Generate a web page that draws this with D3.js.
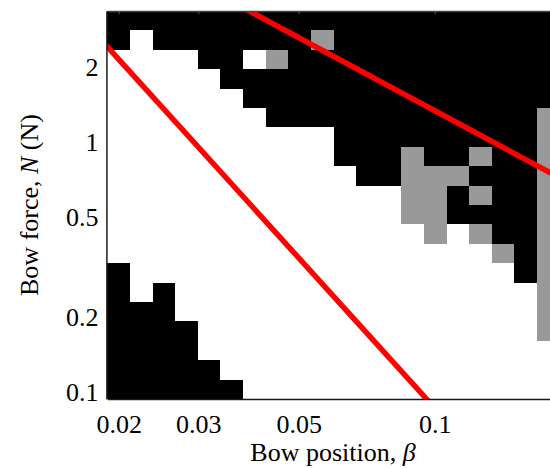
<!DOCTYPE html>
<html>
<head>
<meta charset="utf-8">
<script src="https://cdn.jsdelivr.net/npm/d3@7"></script>
<style>
  body { margin: 0; background: #fff; }
  svg { display: block; }
  text { font-family: "Liberation Serif", "Times New Roman", serif; fill: #000; }
</style>
</head>
<body>
<svg id="chart" width="550" height="468"></svg>
<script>
// Bow position grid, column centres
const betaValues = [0.02, 0.02244, 0.02518, 0.02825, 0.0317, 0.03557, 0.03991, 0.04478, 0.05024, 0.05637,
                    0.06325, 0.07097, 0.07962, 0.08934, 0.10024, 0.11247, 0.12619, 0.14159, 0.15887, 0.17825];
// Bow force grid, row centres (N), from the top row down
const forceValues = [3.0, 2.50814, 2.09711, 1.75344, 1.46602, 1.22571, 1.02485, 0.85675, 0.71635, 0.59895,
                     0.50079, 0.41871, 0.35008, 0.29271, 0.24474, 0.20463, 0.17109, 0.14305, 0.1196, 0.1];
// Regime of each cell, one string per force row: k = black, w = white, g = grey
const regimeRows = [
  "kkkkkkkkkkkkkkkkkkkk",
  "kwkkkkkkkgkkkkkkkkkk",
  "wwwwkkwgkkkkkkkkkkkk",
  "wwwwwkkkkkkkkkkkkkkk",
  "wwwwwwkkkkkkkkkkkkkk",
  "wwwwwwwkkkkkkkkkkkkg",
  "wwwwwwwwwwkkkkkkkkkg",
  "wwwwwwwwwwkkkgkkgkkg",
  "wwwwwwwwwwwkkgggkkkg",
  "wwwwwwwwwwwwwggkgkkg",
  "wwwwwwwwwwwwwggkkkkg",
  "wwwwwwwwwwwwwwgwgkkg",
  "wwwwwwwwwwwwwwwwwgkg",
  "kwwwwwwwwwwwwwwwwwkg",
  "kwkwwwwwwwwwwwwwwwwg",
  "kkkwwwwwwwwwwwwwwwwg",
  "kkkkwwwwwwwwwwwwwwwg",
  "kkkkwwwwwwwwwwwwwwww",
  "kkkkkwwwwwwwwwwwwwww",
  "kkkkkkwwwwwwwwwwwwww"
];
const regimeColours = { k: "#000000", w: "#ffffff", g: "#999999" };

const xTickValues = [0.02, 0.03, 0.05, 0.1];
const yTickValues = [0.1, 0.2, 0.5, 1, 2];

// Bow-force limit lines (beta, N)
const maxForceBeta = [0.037, 0.19];
const maxForceN = [3.444, 0.70];
const minForceBeta = [0.0185, 0.1];
const minForceN = [2.458, 0.0841];

const svg = d3.select("#chart");
const plot = { left: 107.4, right: 559.6, top: 11, bottom: 399 };

// Cell edges: geometric midpoints between neighbouring grid values
function edges(vals) {
  const e = [];
  const n = vals.length;
  e.push(vals[0] * Math.sqrt(vals[0] / vals[1]));
  for (let i = 0; i < n - 1; i++) e.push(Math.sqrt(vals[i] * vals[i + 1]));
  e.push(vals[n - 1] * Math.sqrt(vals[n - 1] / vals[n - 2]));
  return e;
}
const bEdges = edges(betaValues);
const nEdges = edges(forceValues);

const x = d3.scaleLog()
  .domain([bEdges[0], bEdges[bEdges.length - 1]])
  .range([plot.left, plot.right]);
const y = d3.scaleLog()
  .domain([nEdges[nEdges.length - 1], nEdges[0]])
  .range([plot.bottom, plot.top]);

svg.append("defs").append("clipPath").attr("id", "plotClip")
  .append("rect")
  .attr("x", plot.left).attr("y", plot.top)
  .attr("width", plot.right - plot.left).attr("height", plot.bottom - plot.top);

// Regime cells
const cells = [];
regimeRows.forEach((row, r) => {
  row.split("").forEach((code, c) => cells.push({ r, c, code }));
});
svg.append("g")
  .attr("shape-rendering", "crispEdges")
  .selectAll("rect")
  .data(cells)
  .join("rect")
  .attr("x", d => x(bEdges[d.c]))
  .attr("width", d => x(bEdges[d.c + 1]) - x(bEdges[d.c]))
  .attr("y", d => y(nEdges[d.r]))
  .attr("height", d => y(nEdges[d.r + 1]) - y(nEdges[d.r]))
  .attr("fill", d => regimeColours[d.code]);

// Limit lines
const line = d3.line().x(d => x(d[0])).y(d => y(d[1]));
const lineGroup = svg.append("g").attr("clip-path", "url(#plotClip)");
lineGroup.append("path")
  .datum(maxForceBeta.map((b, i) => [b, maxForceN[i]]))
  .attr("d", line)
  .attr("fill", "none").attr("stroke", "#ff0000").attr("stroke-width", 5.5);
lineGroup.append("path")
  .datum(minForceBeta.map((b, i) => [b, minForceN[i]]))
  .attr("d", line)
  .attr("fill", "none").attr("stroke", "#ff0000").attr("stroke-width", 5.5);

// Axes
const fmt = d => String(d);

const xAxis = svg.append("g")
  .attr("transform", `translate(0,${plot.bottom})`)
  .call(d3.axisBottom(x).tickValues(xTickValues).tickFormat(fmt).tickSize(0).tickPadding(16));
xAxis.select(".domain").attr("stroke", "#1a1a1a").attr("stroke-width", 1.5);
xAxis.selectAll("text").style("font-size", "26px");

svg.append("g")
  .attr("transform", `translate(0,${plot.top})`)
  .call(d3.axisTop(x).tickValues(xTickValues).tickFormat("").tickSizeInner(-3).tickSizeOuter(0))
  .call(g => g.select(".domain").attr("stroke", "#444").attr("stroke-width", 1.5))
  .call(g => g.selectAll("line").attr("stroke", "#555").attr("stroke-width", 1));

const yAxis = svg.append("g")
  .attr("transform", `translate(${plot.left - 1},0)`)
  .call(d3.axisLeft(y).tickValues(yTickValues).tickFormat(fmt).tickSize(0).tickPadding(8));
yAxis.select(".domain").attr("stroke", "#1a1a1a").attr("stroke-width", 1.5);
yAxis.selectAll("text").style("font-size", "26px").attr("dy", "0.42em");

// Axis titles
const xt = svg.append("text")
  .attr("x", 333).attr("y", 461)
  .attr("text-anchor", "middle")
  .style("font-size", "26px");
xt.append("tspan").text("Bow position, ");
xt.append("tspan").style("font-style", "italic").text("β");

const yt = svg.append("text")
  .attr("transform", "translate(38,205) rotate(-90)")
  .attr("text-anchor", "middle")
  .style("font-size", "26px");
yt.append("tspan").text("Bow force, ");
yt.append("tspan").style("font-style", "italic").text("N");
yt.append("tspan").text(" (N)");
</script>
</body>
</html>
